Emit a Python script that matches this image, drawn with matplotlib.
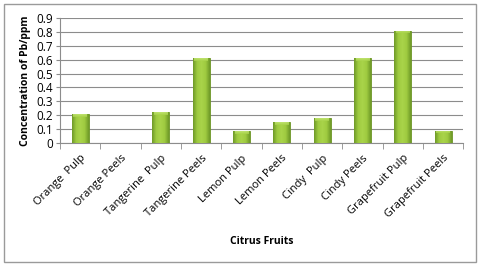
import matplotlib
matplotlib.use("Agg")
import matplotlib.pyplot as plt
import matplotlib.patches as mpatches
import numpy as np
from matplotlib.colors import LinearSegmentedColormap

# data
fruits = ["Orange  Pulp", "Orange Peels", "Tangerine  Pulp", "Tangerine Peels",
          "Lemon Pulp", "Lemon Peels", "Cindy  Pulp", "Cindy Peels",
          "Grapefruit Pulp", "Grapefruit Peels"]
pb_ppm = [0.21, 0.0, 0.22, 0.61, 0.085, 0.15, 0.18, 0.61, 0.81, 0.09]
y_ticks = [0, 0.1, 0.2, 0.3, 0.4, 0.5, 0.6, 0.7, 0.8, 0.9]

plt.rcParams["font.family"] = ["Open Sans", "DejaVu Sans"]

fig = plt.figure(figsize=(4.8, 2.66), dpi=100)
ax = fig.add_axes([0.125, 0.4624, 0.84, 0.4696])

x = np.arange(len(fruits))
bars = ax.bar(x, pb_ppm, width=0.42, color="#94c23a", edgecolor="#6a9326",
              linewidth=0.6, zorder=3)

# horizontal shading like the Excel bevelled bars
green = LinearSegmentedColormap.from_list(
    "bevel", ["#6f9a28", "#9fcb40", "#a9d44a", "#9fcb40", "#6f9a28"])
grad = np.linspace(0, 1, 64).reshape(1, -1)
top_fade = LinearSegmentedColormap.from_list("cap", ["#c6e77a", "#a9d44a"])
for b in bars:
    if b.get_height() <= 0:
        continue
    x0, w, h = b.get_x(), b.get_width(), b.get_height()
    im = ax.imshow(grad, cmap=green, aspect="auto", zorder=3.5,
                   extent=[x0, x0 + w, 0, h])
    im.set_clip_path(b)
    cap = min(0.02, h * 0.25)
    im2 = ax.imshow(np.linspace(0, 1, 16).reshape(-1, 1), cmap=top_fade,
                    aspect="auto", zorder=3.6, alpha=0.8,
                    extent=[x0 + w * 0.1, x0 + w * 0.9, h - cap, h])
    im2.set_clip_path(b)

ax.set_xlim(-0.5, len(fruits) - 0.5)
ax.set_ylim(0, 0.9)
ax.set_yticks(y_ticks)
ax.set_yticklabels([f"{v:g}" for v in y_ticks], fontsize=8.5)
ax.yaxis.grid(True, color="#8c8c8c", linewidth=0.8, zorder=0)

ax.set_xticks(x)
ax.set_xticklabels(fruits, rotation=45, ha="right", rotation_mode="anchor",
                   fontsize=8)
ax.tick_params(axis="x", length=0, pad=7)
ax.set_xticks(np.arange(len(fruits) + 1) - 0.5, minor=True)
ax.tick_params(axis="x", which="minor", length=4, color="#8c8c8c")
ax.tick_params(axis="y", length=3, color="#8c8c8c", pad=2)

for side in ["top", "right"]:
    ax.spines[side].set_visible(False)
for side in ["left", "bottom"]:
    ax.spines[side].set_color("#8c8c8c")

ax.set_ylabel("Concentration of Pb/ppm", fontsize=7.5, fontweight="bold",
              labelpad=4)
ax.set_xlabel("Citrus Fruits", fontsize=7.5, fontweight="bold", labelpad=11)

# chart border
fig.add_artist(mpatches.Rectangle((0.008, 0.015), 0.984, 0.97,
                                  transform=fig.transFigure, fill=False,
                                  edgecolor="#9a9a9a", linewidth=1.0))

fig.savefig("out.png", dpi=100)
